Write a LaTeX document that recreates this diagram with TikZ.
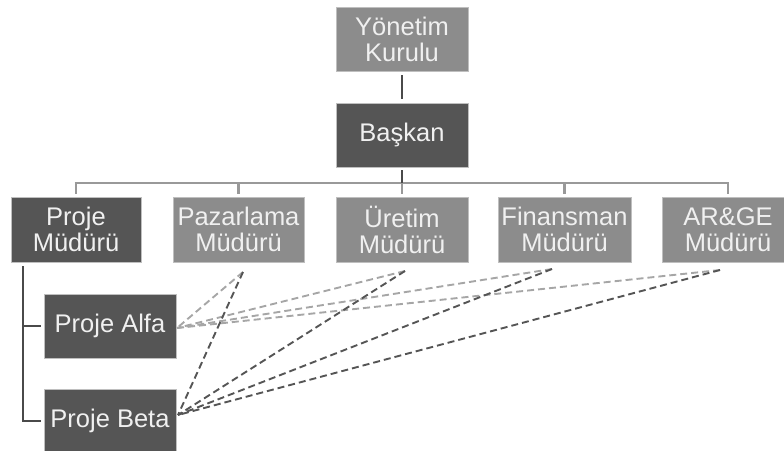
\documentclass[tikz,border=0pt]{standalone}
\usepackage{fontspec}
\setmainfont{Liberation Sans}
\definecolor{darkbox}{HTML}{555555}
\definecolor{lightbox}{HTML}{8C8C8C}
\definecolor{barline}{HTML}{999999}
\definecolor{darkline}{HTML}{4A4A4A}
\definecolor{dashlight}{HTML}{A6A6A6}
\definecolor{dashdark}{HTML}{555555}
\begin{document}
\begin{tikzpicture}[x=1pt,y=-1pt,
  box/.style={draw=white!75!black,line width=0.5pt,text=white!94!black,align=center,
    minimum width=132pt,minimum height=64pt,inner sep=0pt,
    font=\fontsize{25.5}{26}\selectfont},
  dbox/.style={box,fill=darkbox},
  lbox/.style={box,fill=lightbox},
  tree/.style={line width=2.6pt,barline},
  dtree/.style={line width=2.6pt,darkline},
  ldash/.style={dashlight,line width=1.9pt,dash pattern=on 7pt off 4pt},
  ddash/.style={dashdark,line width=1.9pt,dash pattern=on 7pt off 4pt}]
\useasboundingbox (0,0) rectangle (784,450);
\begin{scope}
\clip (0,0) rectangle (784,450);
\node[lbox] (yk) at (402,39) {Yönetim\\Kurulu};
\node[dbox] (bk) at (402,135) {Başkan};
\node[dbox,minimum width=130pt,minimum height=65pt] (pm) at (76,229.5) {Proje\\Müdürü};
\node[lbox,minimum width=131pt,minimum height=65pt] (pz) at (238.5,229.5) {Pazarlama\\Müdürü};
\node[lbox,minimum height=65pt] (ur) at (402,229.5) {Üretim\\Müdürü};
\node[lbox,minimum width=133pt,minimum height=65pt] (fn) at (564.5,229.5) {Finansman\\Müdürü};
\node[lbox,minimum height=65pt] (ar) at (728,229.5) {AR\&GE\\Müdürü};
\node[dbox] (pa) at (110,326) {Proje Alfa};
\node[dbox] (pb) at (110,421) {Proje Beta};

\coordinate (bar) at (402,183);
\coordinate (barL) at (76,183);
\coordinate (barR) at (728,183);
\coordinate (pmv) at (23,266);
\coordinate (pmA) at (23,326);
\coordinate (pmB) at (23,421);

\draw[dtree,shorten <=4pt,shorten >=4pt] (yk.south) -- (bk.north);
\draw[tree] ([xshift=-1.3pt]barL) -- ([xshift=1.3pt]barR);
\draw[dtree,shorten <=3pt] (bk.south) -- (bar);
\foreach \n in {pm,pz,ur,fn,ar}{
  \draw[tree,shorten >=3pt] (barL -| \n.north) -- (\n.north);
}
\draw[dtree] (pmv) -- (pmB) -- ([xshift=-3pt]pb.west);
\draw[dtree] (pmA) -- ([xshift=-3pt]pa.west);

\coordinate (pzd) at (243,272);
\coordinate (urd) at (405,271);
\coordinate (fnd) at (552,269);
\coordinate (ard) at (720,270);
\coordinate (pae) at (177,328);
\coordinate (pbe) at (178,415);

\foreach \c in {pzd,urd,fnd,ard}{
  \draw[ldash] (\c) -- (pae);
}
\foreach \c in {pzd,urd,fnd,ard}{
  \draw[ddash] (\c) -- (pbe);
}
\end{scope}
\end{tikzpicture}
\end{document}
